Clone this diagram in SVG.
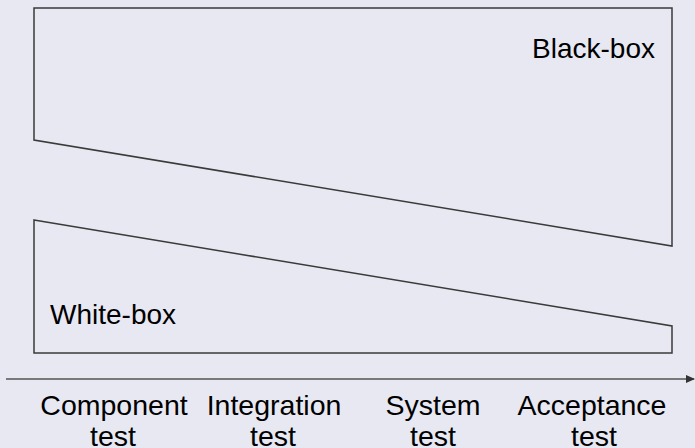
<svg xmlns="http://www.w3.org/2000/svg" width="695" height="448" viewBox="0 0 695 448">
<defs>
<style>
.shape{fill:none;stroke:#3a3a3a;stroke-width:1.5;stroke-linejoin:miter}
.lbl{font-family:"Liberation Sans",Arial,sans-serif;font-size:28px;fill:#000}
.ax{font-family:"Liberation Sans",Arial,sans-serif;font-size:28.5px;fill:#000;text-anchor:middle}
</style>
<marker id="ah" markerWidth="10" markerHeight="10" refX="8" refY="4" orient="auto" markerUnits="userSpaceOnUse">
<path d="M0,0 L9,4 L0,8 Z" fill="#333"/>
</marker>
</defs>
<rect width="695" height="448" fill="#E8E8F2"/>
<g id="black-box">
<polygon class="shape" points="34,8 672,8 672,246 34,140"/>
<text class="lbl" x="655" y="58" text-anchor="end">Black-box</text>
</g>
<g id="white-box">
<polygon class="shape" points="34,220 672,326 672,353 34,353"/>
<text class="lbl" x="50" y="324">White-box</text>
</g>
<g id="connectors">
<line x1="6" y1="379" x2="694" y2="379" stroke="#555" stroke-width="1.5" marker-end="url(#ah)"/>
</g>
<g id="axis-labels">
<text class="ax" x="114" y="415">Component</text>
<text class="ax" x="113" y="446">test</text>
<text class="ax" x="274" y="415">Integration</text>
<text class="ax" x="273" y="446">test</text>
<text class="ax" x="433" y="415">System</text>
<text class="ax" x="433" y="446">test</text>
<text class="ax" x="592" y="415">Acceptance</text>
<text class="ax" x="594" y="446">test</text>
</g>
</svg>
